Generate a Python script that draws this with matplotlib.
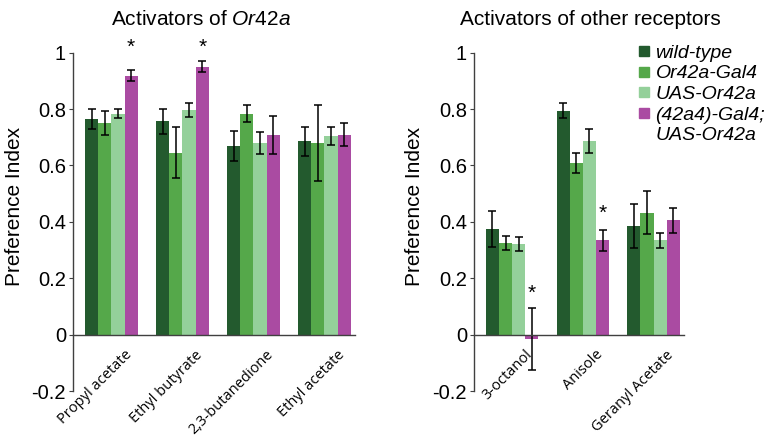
import numpy as np
import matplotlib
matplotlib.use("Agg")
import matplotlib.pyplot as plt
from matplotlib.lines import Line2D
from matplotlib.transforms import ScaledTranslation

plt.rcParams['font.family'] = ['Liberation Sans', 'DejaVu Sans']
plt.rcParams['mathtext.fontset'] = 'custom'
plt.rcParams['mathtext.rm'] = 'Liberation Sans'
plt.rcParams['mathtext.it'] = 'Liberation Sans:italic'

# data
genotypes = ['wild-type', 'Or42a-Gal4', 'UAS-Or42a', '(42a4)-Gal4;\nUAS-Or42a']
colors = ['#235a2e', '#55a84a', '#94d09a', '#aa4ba2']

odors_a = ['Propyl acetate', 'Ethyl butyrate', '2,3-butanedione', 'Ethyl acetate']
means_a = [[0.765, 0.756, 0.668, 0.686],
           [0.751, 0.645, 0.784, 0.680],
           [0.784, 0.798, 0.680, 0.704],
           [0.919, 0.951, 0.709, 0.709]]
errs_a = [[0.036, 0.044, 0.053, 0.051],
          [0.042, 0.090, 0.030, 0.135],
          [0.015, 0.025, 0.040, 0.033],
          [0.021, 0.019, 0.068, 0.040]]
stars_a = [(0, 3, 1.02), (1, 3, 1.02)]

odors_b = ['3-octanol', 'Anisole', 'Geranyl Acetate']
means_b = [[0.376, 0.794, 0.385],
           [0.326, 0.608, 0.432],
           [0.320, 0.687, 0.334],
           [-0.016, 0.334, 0.405]]
errs_b = [[0.064, 0.027, 0.078],
          [0.025, 0.035, 0.076],
          [0.025, 0.043, 0.025],
          [0.110, 0.037, 0.044]]
stars_b = [(0, 3, 0.148), (1, 3, 0.43)]

yticks = [-0.2, 0, 0.2, 0.4, 0.6, 0.8, 1]
ytick_labels = ['-0.2', '0', '0.2', '0.4', '0.6', '0.8', '1']

W, H = 764, 444
fig = plt.figure(figsize=(W / 100, H / 100), dpi=100)

def draw_panel(ax, odors, means, errs, stars):
    x = np.arange(len(odors))
    bw = 0.186
    for i in range(len(genotypes)):
        xs = x + (i - 1.5) * bw
        ax.bar(xs, means[i], width=bw, color=colors[i], linewidth=0)
        ax.errorbar(xs, means[i], yerr=errs[i], fmt='none', ecolor='black',
                    elinewidth=1.1, capsize=3, capthick=1.1)
    for g, s, yy in stars:
        ax.text(x[g] + (s - 1.5) * bw, yy, '*', ha='center', va='center',
                fontsize=15, clip_on=False)
    ax.set_xlim(-0.54, len(odors) - 0.57)
    ax.set_ylim(-0.2, 1)
    ax.spines['top'].set_visible(False)
    ax.spines['right'].set_visible(False)
    ax.spines['bottom'].set_position(('data', 0))
    for sp in ['left', 'bottom']:
        ax.spines[sp].set_color('#404040')
        ax.spines[sp].set_linewidth(1)
    ax.set_yticks(yticks)
    ax.set_yticklabels(ytick_labels, fontsize=14.5)
    ax.tick_params(axis='y', direction='out', length=3, width=0.8, pad=2,
                   color='#404040')
    ax.set_xticks(x)
    ax.set_xticklabels(odors, rotation=45, ha='right', va='center',
                       rotation_mode='anchor', fontsize=10.5, family='Open Sans')
    ax.tick_params(axis='x', length=0, pad=13)
    off = ScaledTranslation(18 / 100, 0, fig.dpi_scale_trans)
    for lab in ax.get_xticklabels():
        lab.set_transform(lab.get_transform() + off)

ax1 = fig.add_axes([73 / W, 1 - 391 / H, 282 / W, 338.3 / H])
draw_panel(ax1, odors_a, means_a, errs_a, stars_a)
ax2 = fig.add_axes([474 / W, 1 - 391 / H, 210 / W, 338.3 / H])
draw_panel(ax2, odors_b, means_b, errs_b, stars_b)

fig.text(201 / W, 1 - 25 / H, 'Activators of $\\mathit{Or42a}$', ha='center',
         va='baseline', fontsize=15)
fig.text(590 / W, 1 - 25 / H, 'Activators of other receptors', ha='center',
         va='baseline', fontsize=15)
fig.text(15 / W, 1 - 206 / H, 'Preference Index', rotation=90, ha='center',
         va='center', fontsize=15)
fig.text(415 / W, 1 - 206 / H, 'Preference Index', rotation=90, ha='center',
         va='center', fontsize=15)

# legend: the two-line label gets its square on the first line only
handles, labels = [], []
for g, c in zip(genotypes, colors):
    parts = g.split('\n')
    handles.append(Line2D([], [], marker='s', linestyle='none', markersize=6.5,
                          markerfacecolor=c, markeredgecolor=c))
    labels.append(parts[0])
    for p in parts[1:]:
        handles.append(Line2D([], [], linestyle='none'))
        labels.append(p)
leg = fig.legend(handles, labels, loc='upper left',
                 bbox_to_anchor=(637 / W, 1 - 44 / H), frameon=False,
                 prop={'style': 'italic', 'size': 14}, handlelength=0.7,
                 handletextpad=0.25, labelspacing=0.16, borderpad=0,
                 borderaxespad=0)

fig.savefig('out.png', dpi=100)
